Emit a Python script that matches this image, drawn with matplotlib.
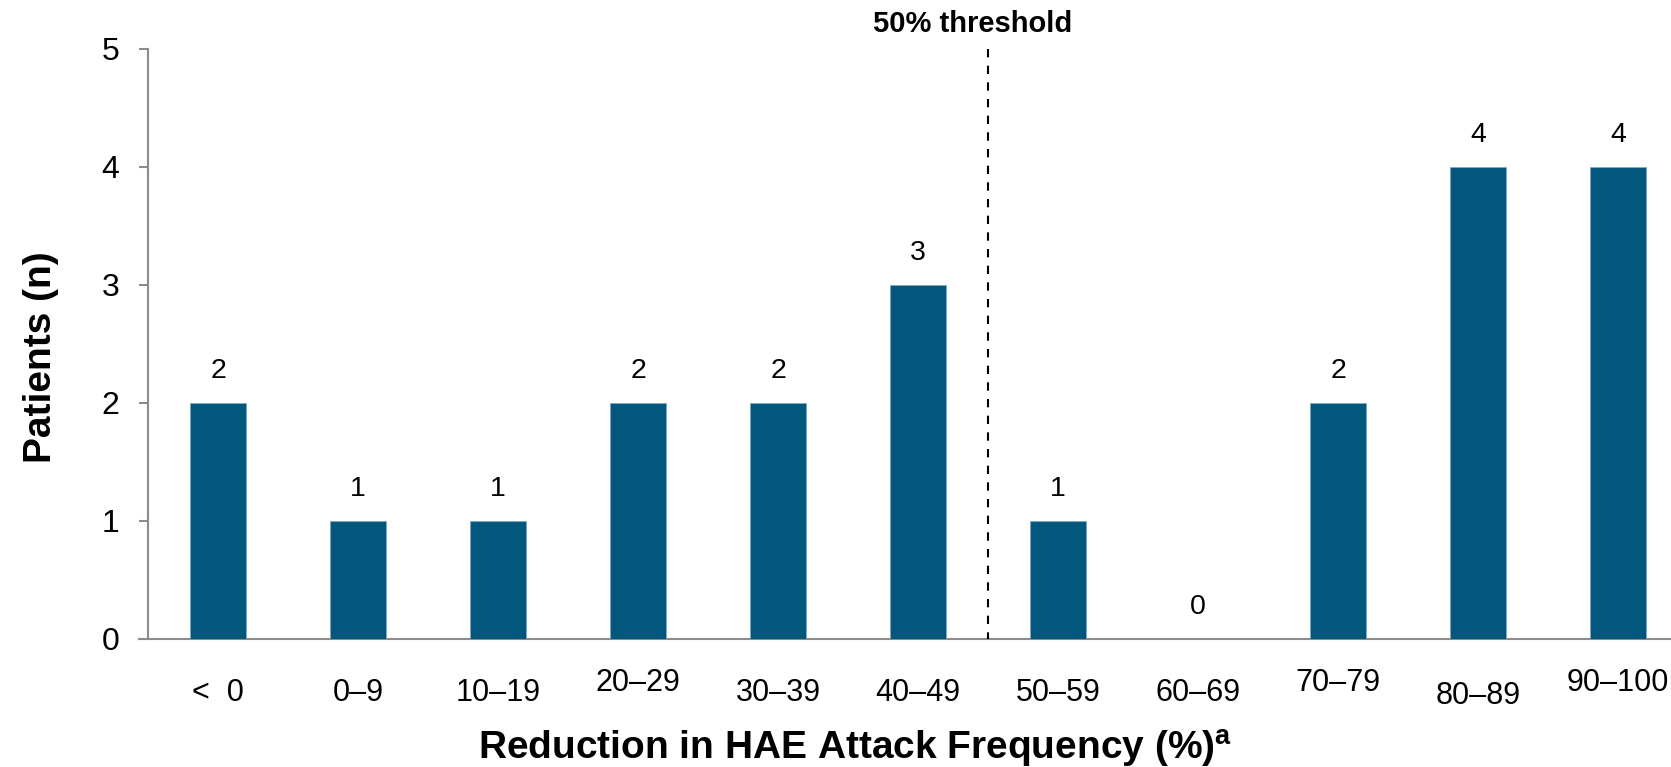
import matplotlib
matplotlib.use("Agg")
import matplotlib.pyplot as plt
from matplotlib.transforms import ScaledTranslation, blended_transform_factory

categories = ["<  0", "0\u20139", "10\u201319", "20\u201329", "30\u201339", "40\u201349",
              "50\u201359", "60\u201369", "70\u201379", "80\u201389", "90\u2013100"]
patients = [2, 1, 1, 2, 2, 3, 1, 0, 2, 4, 4]
y_ticks = [0, 1, 2, 3, 4, 5]
threshold_pos = 5.5
threshold_label = "50% threshold"
x_label = "Reduction in HAE Attack Frequency (%)$^{\\mathbf{a}}$"
y_label = "Patients (n)"

# style: per-label vertical offsets (points) for staggered tick labels
label_dy = [-7, -7, -7, 0, -7, -7, -7, -7, 0, -9, 0]

plt.rcParams["font.family"] = ["Liberation Sans", "DejaVu Sans"]
plt.rcParams["mathtext.fontset"] = "custom"
plt.rcParams["mathtext.rm"] = "Liberation Sans"
plt.rcParams["mathtext.bf"] = "Liberation Sans:bold"

bar_color = "#03577c"
axis_color = "#8c8c8c"

W, H = 1671, 767
fig = plt.figure(figsize=(W / 100, H / 100), dpi=100)
left_px, y0_px, y5_px, unit_px = 148, 639, 49, 140
ax = fig.add_axes([left_px / W, 1 - y0_px / H, 11 * unit_px / W, (y0_px - y5_px) / H])

x = list(range(len(categories)))
ax.bar(x, patients, width=0.4, color=bar_color, edgecolor="#7fa9c0", linewidth=0.6, zorder=3)

for xi, v in zip(x, patients):
    ax.annotate(str(v), (xi, v), xytext=(0, 18), textcoords="offset points",
                ha="center", va="baseline", fontsize=20.5, color="black")

ax.set_xlim(-0.5, 10.5)
ax.set_ylim(0, 5)
ax.set_yticks(y_ticks)
ax.set_yticklabels([str(t) for t in y_ticks], fontsize=23)
ax.set_xticks(x)
ax.set_xticklabels(categories, fontsize=22)

ax.tick_params(axis="y", length=6.5, width=1.5, color=axis_color, pad=14)
ax.tick_params(axis="x", length=0, pad=21)

for lab, dy in zip(ax.get_xticklabels(), label_dy):
    lab.set_transform(lab.get_transform() + ScaledTranslation(0, dy / 72, fig.dpi_scale_trans))

for s in ["top", "right"]:
    ax.spines[s].set_visible(False)
for s in ["left", "bottom"]:
    ax.spines[s].set_color(axis_color)
    ax.spines[s].set_linewidth(1.5)
ax.spines["bottom"].set_bounds(-0.565, 10.5)

ax.plot([threshold_pos, threshold_pos], [5.0, 0], color="black", lw=1.5,
        linestyle=(0, (4, 4)), clip_on=False, zorder=4)
tr = blended_transform_factory(ax.transData, fig.transFigure)
ax.annotate(threshold_label, (threshold_pos, 1 - 32 / H), xycoords=tr,
            xytext=(-11, 0), textcoords="offset points", ha="center", va="baseline",
            fontsize=21, fontweight="bold", annotation_clip=False)

ax.set_xlabel(x_label, fontsize=28, fontweight="bold")
ax.xaxis.label.set_va("baseline")
ax.xaxis.set_label_coords(0.459, -(760 - y0_px) / (y0_px - y5_px))
ax.set_ylabel(y_label, fontsize=28, fontweight="bold")
ax.yaxis.set_label_coords(-(left_px - 59) / (11 * unit_px), 0.478)

fig.savefig("out.png", dpi=100)
